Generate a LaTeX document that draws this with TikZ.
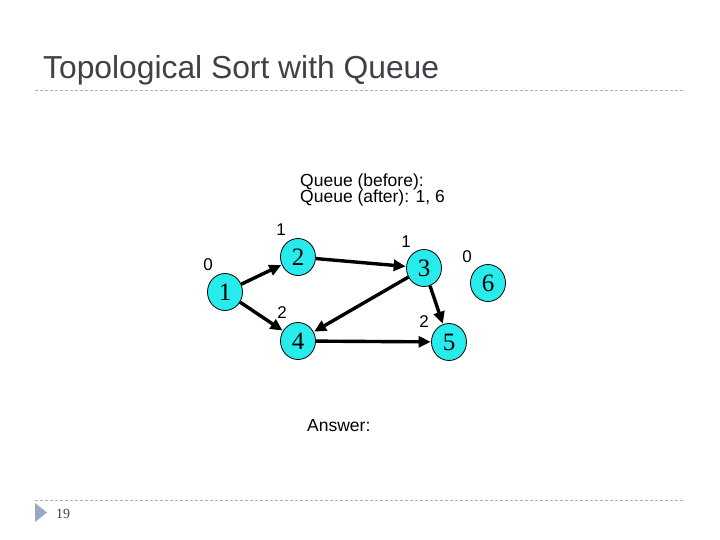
\documentclass[tikz,border=0pt]{standalone}
\usepackage{fontspec}
\setmainfont{Liberation Sans}
\newfontfamily\serifnum{Liberation Serif}
\usetikzlibrary{arrows.meta,shapes.geometric}
\definecolor{nodecyan}{RGB}{40,235,235}
\definecolor{titlegray}{RGB}{64,64,72}
\definecolor{rulegray}{RGB}{175,180,185}
\definecolor{bulletblue}{RGB}{150,170,195}
\begin{document}
\begin{tikzpicture}[x=1pt,y=-1pt,
  vtx/.style={ellipse,draw=black,line width=0.8pt,fill=nodecyan,minimum width=35pt,minimum height=37pt,inner sep=0pt,font=\serifnum\fontsize{25}{25}\selectfont},
  edge/.style={line width=3.4pt,-{Triangle[length=12pt,width=11pt]},shorten >=0.5pt},
  lbl/.style={font=\fontsize{17}{17}\selectfont,inner sep=0pt},
  rule/.style={draw=rulegray,dash pattern=on 3pt off 2pt,line width=0.8pt}]
\useasboundingbox (0,0) rectangle (720,540);
\node[anchor=base west,inner sep=0pt,text=titlegray,font=\fontsize{31.8}{31.8}\selectfont] (title) at (43,79) {Topological Sort with Queue};
\coordinate (r1a) at (35,90); \coordinate (r1b) at (685,90);
\draw[rule] (r1a) -- (r1b);
\coordinate (r2a) at (35,500); \coordinate (r2b) at (685,500);
\draw[rule] (r2a) -- (r2b);
\fill[bulletblue] (35,503) -- (47,512.5) -- (35,522) -- cycle;
\node[anchor=base west,inner sep=0pt,text=titlegray,font=\serifnum\fontsize{14}{14}\selectfont] (pg) at (56,518) {19};

\node[anchor=base west,inner sep=0pt,font=\fontsize{17.5}{17.5}\selectfont] (qb) at (300,187) {Queue (before):};
\node[anchor=base west,inner sep=0pt,font=\fontsize{17.5}{17.5}\selectfont] (qa) at (300,203) {Queue (after): 1, 6};
\node[anchor=base west,inner sep=0pt,font=\fontsize{17.5}{17.5}\selectfont] (ans) at (307,431) {Answer:};

\node[vtx] (n1) at (225,292) {1};
\node[vtx] (n2) at (298,257) {2};
\node[vtx] (n3) at (424,268) {3};
\node[vtx] (n6) at (488,283) {6};
\node[vtx] (n4) at (298,341) {4};
\node[vtx] (n5) at (449,342) {5};

\node[lbl] (l1) at (208,265) {0};
\node[lbl] (l2) at (281,230) {1};
\node[lbl] (l3) at (406,242) {1};
\node[lbl] (l6) at (467,257) {0};
\node[lbl] (l4) at (282,313) {2};
\node[lbl] (l5) at (424,322) {2};

\draw[edge] (n1) -- (n2);
\draw[edge] (n1) -- (n4);
\draw[edge] (n2) -- (n3);
\draw[edge] (n3) -- (n4);
\draw[edge] (n3) -- (n5);
\draw[edge] (n4) -- (n5);
\end{tikzpicture}
\end{document}
